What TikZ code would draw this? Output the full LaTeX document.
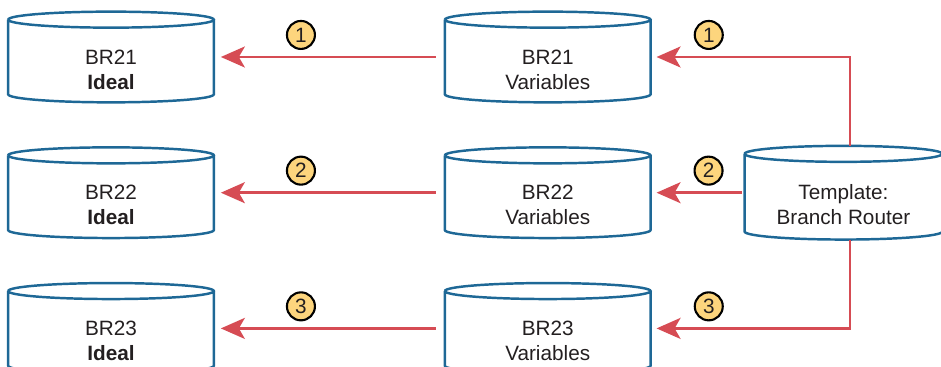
\documentclass[tikz,border=0pt]{standalone}
\usepackage{fontspec}
\setmainfont{Liberation Sans}
\usetikzlibrary{arrows.meta,positioning,calc}
\definecolor{drumBlue}{RGB}{30,104,150}
\definecolor{flowRed}{RGB}{214,76,84}
\definecolor{stepYellow}{RGB}{253,213,125}
\definecolor{textGray}{RGB}{35,31,32}
% two text lines, set a little below the middle of the drum
\newcommand{\drumtext}[2]{\raisebox{-0.40cm}[0pt][0pt]{\begin{tabular}{@{}c@{}}#1\\#2\end{tabular}}}

\begin{document}
\begin{tikzpicture}[
    drum/.style={rectangle,inner sep=0pt,minimum width=4.1cm,minimum height=1.8cm,text=textGray,
      font=\fontsize{11.8}{14.2}\selectfont},
    drumline/.style={draw=drumBlue,line width=1.4pt},
    flow/.style={-{Stealth[length=4.8mm,width=4.2mm,inset=1.2mm]},line width=1.4pt,flowRed},
    num/.style={circle,draw=black,line width=1.2pt,fill=stepYellow,inner sep=0pt,minimum size=0.56cm,
      font=\fontsize{11.8}{12}\selectfont,text=textGray},
    node distance=0.9cm and 4.62cm
  ]
    \useasboundingbox (0,0) rectangle (18.82,-7.34);
    \node[drum] (br21i) at (2.22,-1.14) {\drumtext{BR21}{\textbf{Ideal}}};
    \node[drum,below=of br21i] (br22i) {\drumtext{BR22}{\textbf{Ideal}}};
    \node[drum,below=of br22i] (br23i) {\drumtext{BR23}{\textbf{Ideal}}};
    \node[drum,right=of br21i] (br21v) {\drumtext{BR21}{Variables}};
    \node[drum,right=of br22i] (br22v) {\drumtext{BR22}{Variables}};
    \node[drum,right=of br23i] (br23v) {\drumtext{BR23}{Variables}};
    \node[drum,minimum width=3.94cm,minimum height=1.86cm,right=1.88cm of br22v] (tpl) {\drumtext{Template:}{Branch Router}};
    % drum outlines
    \foreach \d in {br21i,br22i,br23i,br21v,br22v,br23v,tpl}
      \draw[drumline] let \p1=(\d.north west), \p2=(\d.south east) in
        (\x1,{\y1-0.16cm}) -- (\x1,{\y2+0.16cm})
          arc[start angle=180,end angle=360,x radius={(\x2-\x1)/2},y radius=0.16cm]
          -- (\x2,{\y1-0.16cm})
        (\x1,{\y1-0.16cm}) arc[start angle=180,end angle=-180,x radius={(\x2-\x1)/2},y radius=0.16cm];
    % variables -> ideal
    \draw[flow,shorten <=0.18cm,shorten >=0.14cm] (br21v.west) -- node[num,pos=0.623,above=0.14cm] (s1l) {1} (br21i.east);
    \draw[flow,shorten <=0.18cm,shorten >=0.14cm] (br22v.west) -- node[num,pos=0.623,above=0.14cm] (s2l) {2} (br22i.east);
    \draw[flow,shorten <=0.18cm,shorten >=0.14cm] (br23v.west) -- node[num,pos=0.623,above=0.14cm] (s3l) {3} (br23i.east);
    % template -> variables
    \draw[flow,shorten >=0.12cm] ([xshift=0.13cm]tpl.north) |- node[num,pos=0.854,above=0.14cm] (s1r) {1} (br21v.east);
    \draw[flow,shorten <=0.06cm,shorten >=0.12cm] (tpl.west) -- node[num,pos=0.383,above=0.14cm] (s2r) {2} (br22v.east);
    \draw[flow,shorten >=0.12cm] ([xshift=0.13cm]tpl.south) |- node[num,pos=0.854,above=0.14cm] (s3r) {3} (br23v.east);
\end{tikzpicture}
\end{document}
